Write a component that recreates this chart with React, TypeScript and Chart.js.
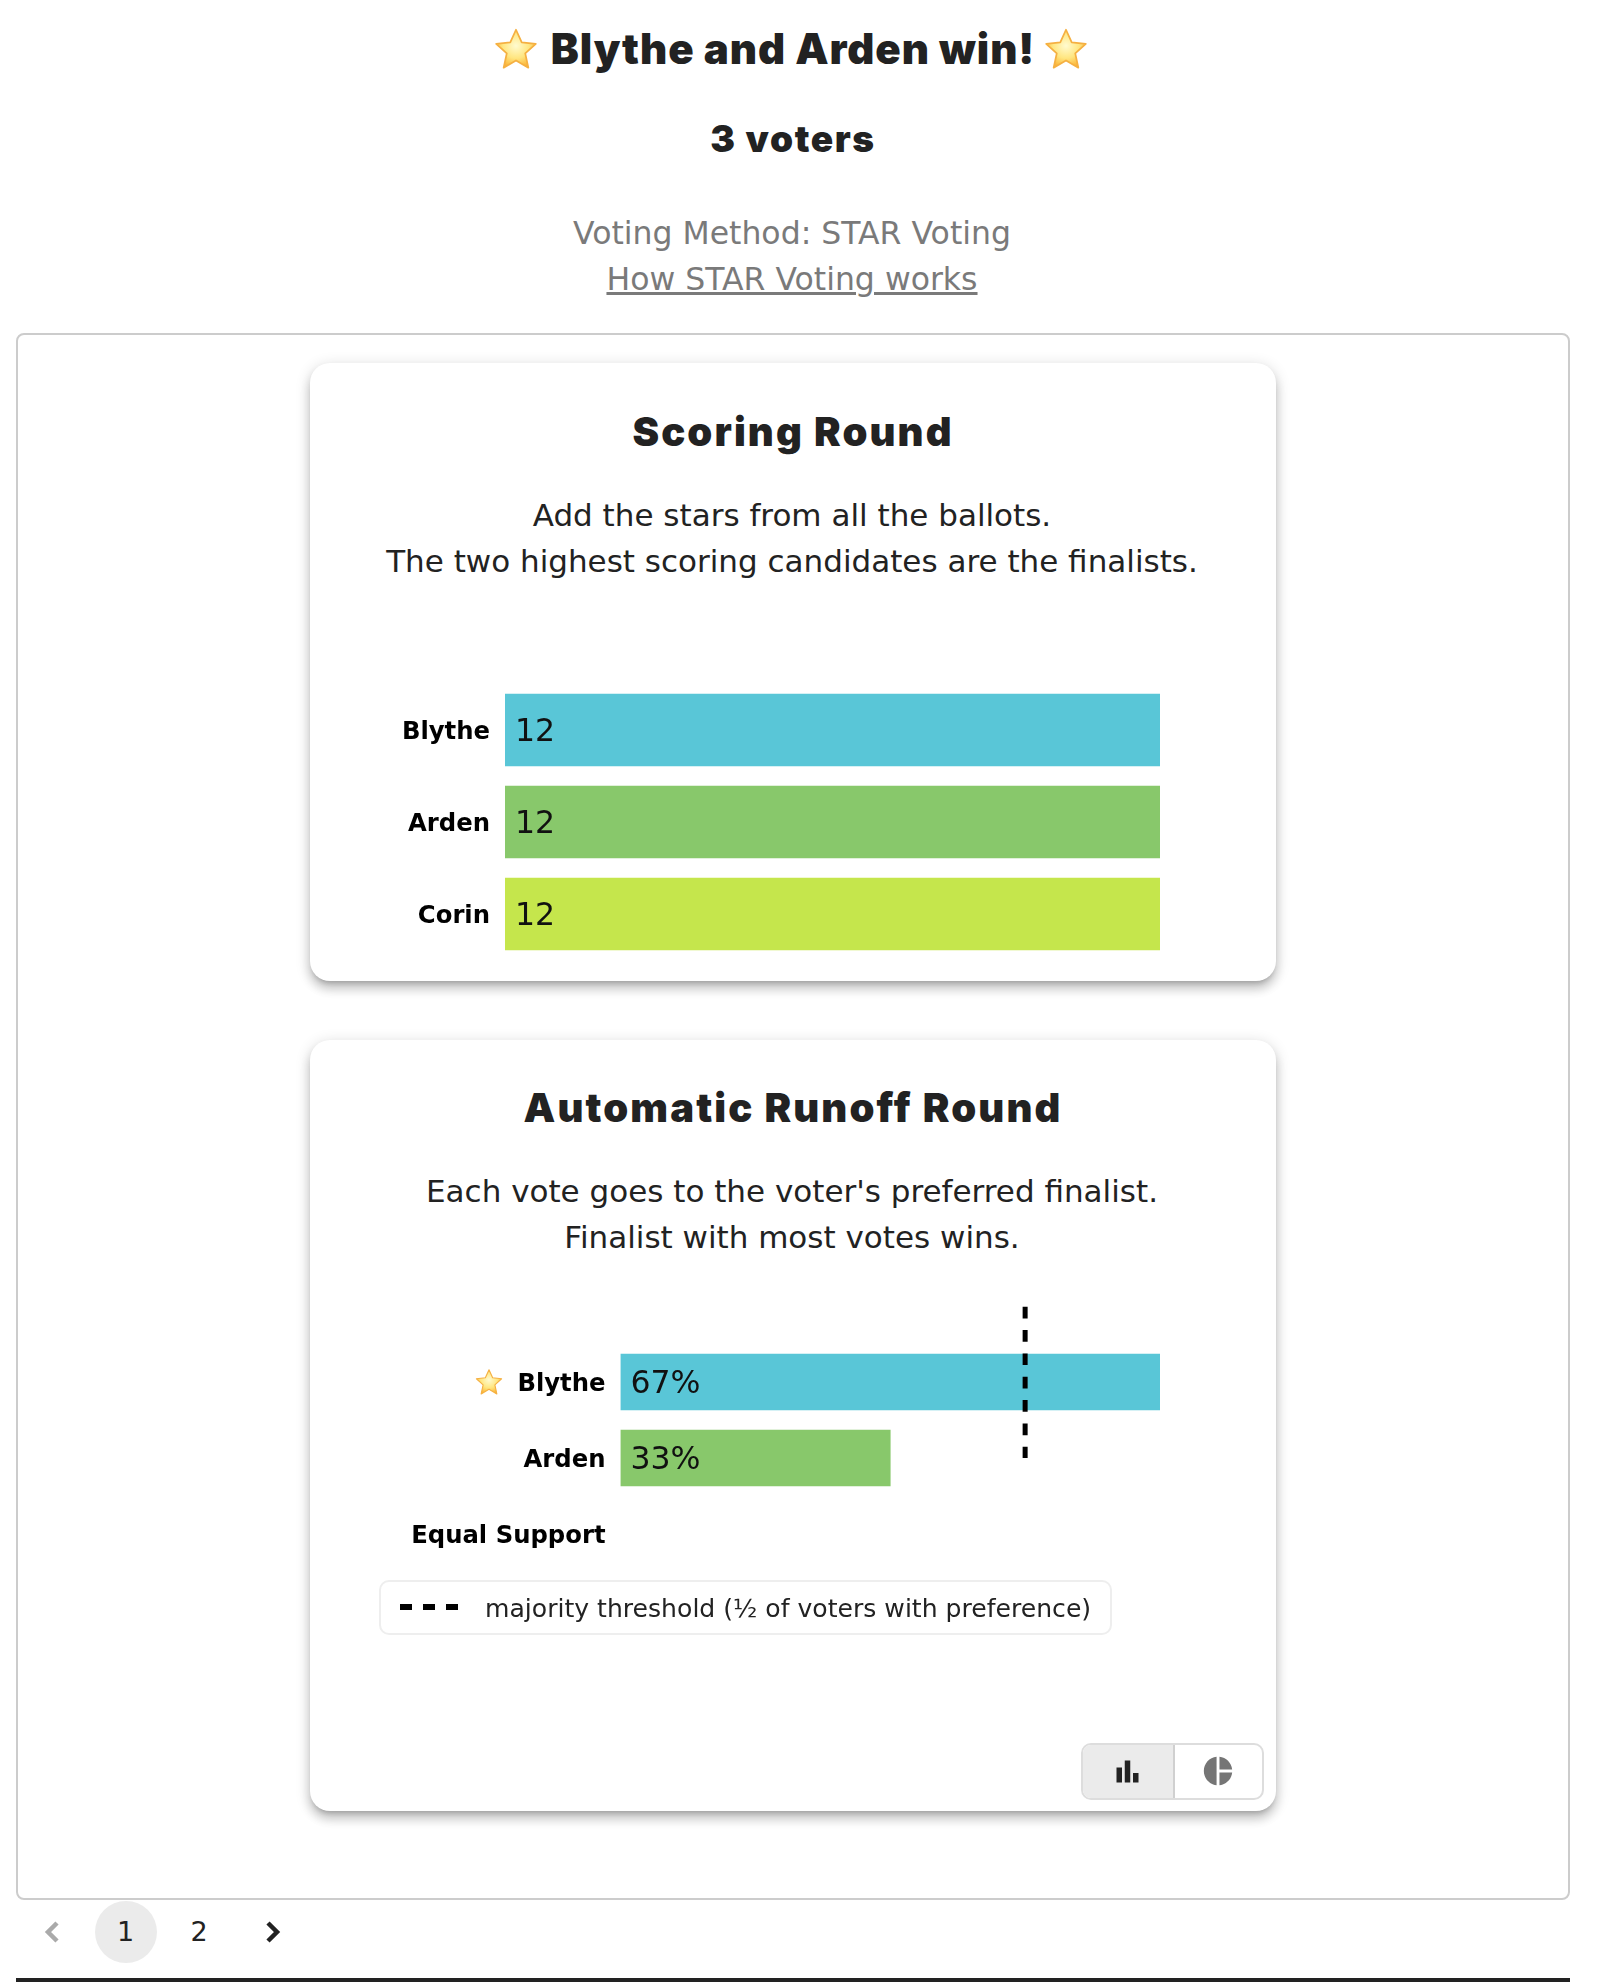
import React, { useEffect, useRef } from "react";
import { Chart, registerables } from "chart.js";

Chart.register(...registerables);

const scoreCandidates = ["Blythe", "Arden", "Corin"];
const scoreValues = [12, 12, 12];
const scoreLabels = ["12", "12", "12"];
const scoreColors = ["#59C6D7", "#88C86B", "#C5E64C"];

const runoffCandidates = ["Blythe", "Arden", "Equal Support"];
const runoffVotes = [2, 1, 0];
const runoffLabels = ["67%", "33%", ""];
const runoffColors = ["#59C6D7", "#88C86B", "rgba(0,0,0,0)"];
const majorityThreshold = 1.5;
const thresholdRowSpan = [-0.99, 1];

const BODY = '"DejaVu Sans", sans-serif';
const HEAD = 'Inter, "Noto Sans", sans-serif';

const overlayPlugin = {
  id: "overlay",
  afterDatasetsDraw(chart: any) {
    const opts = chart.options.plugins.overlay;
    const labels: string[] = opts.labels;
    const meta = chart.getDatasetMeta(0);
    const ctx = chart.ctx;
    ctx.save();
    ctx.font = `31.5px ${BODY}`;
    ctx.fillStyle = "#111";
    ctx.textAlign = "left";
    ctx.textBaseline = "middle";
    meta.data.forEach((bar: any, i: number) => {
      if (labels[i]) ctx.fillText(labels[i], bar.base + 10, bar.y + 3);
    });
    if (opts.threshold !== undefined) {
      const x = chart.scales.x.getPixelForValue(opts.threshold);
      ctx.strokeStyle = "#000";
      ctx.lineWidth = 5;
      ctx.setLineDash([11.67, 11.67]);
      ctx.beginPath();
      ctx.moveTo(x, chart.scales.y.getPixelForValue(opts.span[0]));
      ctx.lineTo(x, chart.scales.y.getPixelForValue(opts.span[1]));
      ctx.stroke();
    }
    ctx.restore();
  },
};

type BarProps = {
  left: number; top: number; width: number; height: number;
  paddingTop: number; paddingBottom: number; axisWidth: number;
  categories: string[]; values: number[]; labels: string[]; colors: string[];
  max: number; thickness: number; threshold?: number; span?: number[];
};

function BarPanel(p: BarProps) {
  const ref = useRef<HTMLCanvasElement>(null);
  useEffect(() => {
    const chart = new Chart(ref.current!, {
      type: "bar",
      data: {
        labels: p.categories,
        datasets: [{ data: p.values, backgroundColor: p.colors, barThickness: p.thickness }],
      },
      plugins: [overlayPlugin],
      options: {
        indexAxis: "y", responsive: false, animation: false,
        layout: { autoPadding: false, padding: { top: p.paddingTop, bottom: p.paddingBottom, left: 0, right: 70 } },
        scales: {
          x: { type: "linear", display: false, min: 0, max: p.max },
          y: {
            type: "category",
            grid: { display: false, drawTicks: false }, border: { display: false },
            afterFit: (s: any) => { s.width = p.axisWidth; },
            ticks: {
              padding: 15, color: "#000", autoSkip: false, labelOffset: 3,
              font: { family: BODY, size: 24.3, weight: "bold" },
            },
          },
        },
        plugins: {
          legend: { display: false }, title: { display: false }, tooltip: { enabled: false },
          overlay: { labels: p.labels, threshold: p.threshold, span: p.span },
        },
      },
    } as any);
    return () => chart.destroy();
  }, []);
  return (
    <div style={{ position: "absolute", left: p.left, top: p.top }}>
      <canvas ref={ref} width={p.width} height={p.height} />
    </div>
  );
}

function T(props: { y: number; size: number; children: any; head?: boolean; color?: string; weight?: number; ls?: number; underline?: boolean; x?: number }) {
  const { y, size, children, head, color, weight, ls, underline, x } = props;
  return (
    <div style={{
      position: "absolute", left: (x ?? 792) - 600, width: 1200, top: y - 40, height: 80, lineHeight: "80px",
      textAlign: "center", whiteSpace: "nowrap", fontFamily: head ? HEAD : BODY, fontSize: size,
      fontWeight: weight ?? 400, color: color ?? "#222", letterSpacing: ls ?? 0,
      textDecoration: underline ? "underline" : "none",
    }}>{children}</div>
  );
}

function Star({ cx, cy, size, id }: { cx: number; cy: number; size: number; id: string }) {
  return (
    <svg width={size} height={size} viewBox="0 0 40 40" style={{ position: "absolute", left: cx - size / 2, top: cy - size / 2 }}>
      <defs>
        <radialGradient id={id} cx="50%" cy="42%" r="60%">
          <stop offset="0%" stopColor="#FFFBD0" />
          <stop offset="55%" stopColor="#FFE680" />
          <stop offset="100%" stopColor="#FBB030" />
        </radialGradient>
      </defs>
      <path d="M20 2.5 L25.2 14 L38 15.4 L28.4 24 L31.2 37 L20 30.4 L8.8 37 L11.6 24 L2 15.4 L14.8 14 Z"
        fill={`url(#${id})`} stroke="#F5B042" strokeWidth="1.6" strokeLinejoin="round" />
    </svg>
  );
}

const cardStyle = (top: number, height: number): React.CSSProperties => ({
  position: "absolute", left: 310, top, width: 966, height, background: "#fff", borderRadius: 20,
  boxShadow: "0 5px 5px -3px rgba(0,0,0,.2), 0 8px 10px 1px rgba(0,0,0,.14), 0 3px 14px 2px rgba(0,0,0,.12)",
});

export default function App() {
  return (
    <div style={{ position: "absolute", left: 0, top: 0, width: 1600, height: 1984, overflow: "hidden", background: "#fff" }}>
      <Star cx={516} cy={49} size={44} id="s1" />
      <T y={49} size={42} head weight={900} ls={0.9} x={793}>Blythe and Arden win!</T>
      <Star cx={1066} cy={49} size={44} id="s2" />
      <T y={139} size={37} head weight={900} ls={1.6} x={793}>3 voters</T>
      <T y={233} size={31.5} color="#7a7a7a">Voting Method: STAR Voting</T>
      <T y={279} size={31.5} color="#7a7a7a" underline>How STAR Voting works</T>

      <div style={{ position: "absolute", left: 16, top: 333, width: 1554, height: 1567, boxSizing: "border-box", border: "2px solid #ccc", borderRadius: 8 }} />

      <div style={cardStyle(363, 618)} />
      <T y={432} size={40} head weight={900} ls={2.1} x={793}>Scoring Round</T>
      <T y={515} size={31}>Add the stars from all the ballots.</T>
      <T y={561} size={31}>The two highest scoring candidates are the finalists.</T>
      <BarPanel left={330} top={654} width={900} height={336} paddingTop={30} paddingBottom={30} axisWidth={175}
        categories={scoreCandidates} values={scoreValues} labels={scoreLabels} colors={scoreColors} max={12} thickness={72} />

      <div style={cardStyle(1040, 771)} />
      <T y={1108} size={40} head weight={900} ls={2.1} x={793}>Automatic Runoff Round</T>
      <T y={1191} size={31}>Each vote goes to the voter's preferred finalist.</T>
      <T y={1237} size={31}>Finalist with most votes wins.</T>
      <BarPanel left={330} top={1290} width={900} height={312} paddingTop={54} paddingBottom={30} axisWidth={290.5}
        categories={runoffCandidates} values={runoffVotes} labels={runoffLabels} colors={runoffColors} max={2} thickness={56}
        threshold={majorityThreshold} span={thresholdRowSpan} />
      <Star cx={489} cy={1382} size={28} id="s3" />

      <div style={{ position: "absolute", left: 379, top: 1580, width: 733, height: 55, boxSizing: "border-box", border: "2px solid #eee", borderRadius: 10 }} />
      <svg width="70" height="12" style={{ position: "absolute", left: 395, top: 1601 }}>
        <line x1="5" y1="6" x2="63" y2="6" stroke="#000" strokeWidth="6" strokeDasharray="12 11" />
      </svg>
      <div style={{ position: "absolute", left: 485, top: 1581, height: 55, lineHeight: "55px", fontFamily: BODY, fontSize: 25.1, color: "#222", whiteSpace: "nowrap" }}>
        majority threshold (½ of voters with preference)
      </div>

      <div style={{ position: "absolute", left: 1081, top: 1743, width: 183, height: 57, boxSizing: "border-box", border: "2px solid #ddd", borderRadius: 10, overflow: "hidden" }}>
        <div style={{ position: "absolute", left: 0, top: 0, width: 90, height: 53, background: "#ebebeb", borderRight: "2px solid #d0d0d0" }} />
      </div>
      <svg width="33" height="33" viewBox="0 0 24 24" style={{ position: "absolute", left: 1111, top: 1755 }}>
        <path fill="#222" d="M4 9h4v11H4zm12 4h4v7h-4zm-6-9h4v16h-4z" />
      </svg>
      <svg width="34" height="34" viewBox="0 0 24 24" style={{ position: "absolute", left: 1201, top: 1754 }}>
        <path fill="#757575" d="M11 2v20c-5.07-.5-9-4.79-9-10s3.93-9.5 9-10zm2.03 0v8.99H22c-.47-4.74-4.24-8.52-8.97-8.99zm0 11.01V22c4.74-.47 8.5-4.25 8.98-8.99h-8.98z" />
      </svg>

      <div style={{ position: "absolute", left: 95, top: 1901, width: 62, height: 62, borderRadius: 31, background: "#ebebeb" }} />
      <svg width="300" height="40" style={{ position: "absolute", left: 30, top: 1912 }}>
        <polyline points="27,11 18,20 27,29" fill="none" stroke="#aaa" strokeWidth="4.5" />
        <polyline points="238,11 247,20 238,29" fill="none" stroke="#222" strokeWidth="4.5" />
      </svg>
      <T x={125.5} y={1932} size={27}>1</T>
      <T x={199} y={1932} size={27}>2</T>
      <div style={{ position: "absolute", left: 16, top: 1978, width: 1554, height: 4, background: "#222" }} />
    </div>
  );
}
